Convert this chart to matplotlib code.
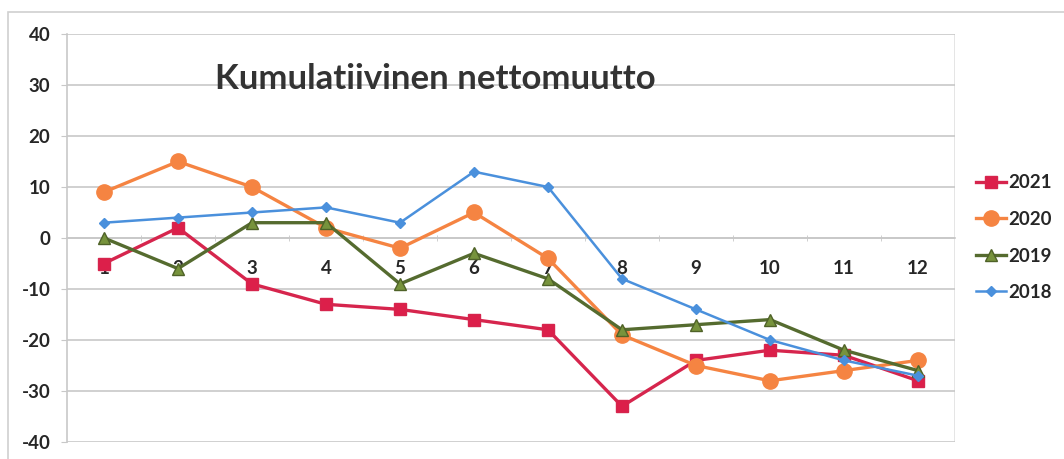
import matplotlib.pyplot as plt
from matplotlib.patches import Rectangle

months = [1, 2, 3, 4, 5, 6, 7, 8, 9, 10, 11, 12]
month_labels = ["1", "2", "3", "4", "5", "6", "7", "8", "9", "10", "11", "12"]
y2021 = [-5, 2, -9, -13, -14, -16, -18, -33, -24, -22, -23, -28]
y2020 = [9, 15, 10, 2, -2, 5, -4, -19, -25, -28, -26, -24]
y2019 = [0, -6, 3, 3, -9, -3, -8, -18, -17, -16, -22, -26]
y2018 = [3, 4, 5, 6, 3, 13, 10, -8, -14, -20, -24, -27]
y_ticks = [-40, -30, -20, -10, 0, 10, 20, 30, 40]
title = "Kumulatiivinen nettomuutto"

plt.rcParams["font.family"] = ["Lato", "DejaVu Sans"]
text_color = "#262626"
grid_color = "#c8c8c8"

fig = plt.figure(figsize=(10.64, 4.59), dpi=100)
ax = fig.add_axes([67 / 1064, 1 - 442 / 459, (955 - 67) / 1064, (442 - 34) / 459])

# outer chart frame
fig.patches.append(Rectangle((8 / 1064, -0.02), 1.0, 1 - 12 / 459 + 0.02,
                             transform=fig.transFigure, fill=False,
                             edgecolor="#d0d0d0", linewidth=1.2))

# spine position first: moving it resets the tick settings
for side in ["top", "right"]:
    ax.spines[side].set_visible(False)
ax.spines["bottom"].set_position(("data", 0))
ax.spines["bottom"].set_color(grid_color)
ax.spines["bottom"].set_linewidth(1.2)
ax.spines["left"].set_color(grid_color)
ax.spines["left"].set_linewidth(1.2)

ax.plot(months, y2021, color="#d6254d", lw=2.4, marker="s", ms=9,
        mfc="#dc1f4a", mec="#d6254d", label="2021", zorder=3)
ax.plot(months, y2020, color="#f58442", lw=2.4, marker="o", ms=11,
        mfc="#f58442", mec="#f58442", label="2020", zorder=4)
ax.plot(months, y2019, color="#556b2f", lw=2.4, marker="^", ms=9,
        mfc="#77933c", mec="#4f6228", label="2019", zorder=5)
ax.plot(months, y2018, color="#4a90dc", lw=1.8, marker="D", ms=5,
        mfc="#4a90dc", mec="#4a90dc", label="2018", zorder=6)

ax.set_xlim(0.5, 12.5)
ax.set_ylim(-40, 40)
ax.set_yticks(y_ticks)
ax.set_yticklabels([str(v) for v in y_ticks], fontsize=13.5, fontweight="bold",
                   color=text_color)
ax.set_xticks(months)
ax.set_xticklabels(month_labels, fontsize=13.5, fontweight="bold", color=text_color)
ax.set_xticks([m + 0.5 for m in months[:-1]], minor=True)

ax.grid(axis="y", color=grid_color, lw=1.2)
ax.set_axisbelow(True)
ax.axvline(12.5, color="#e0e0e0", lw=1.2, zorder=0)

ax.tick_params(axis="y", length=4, color=grid_color, pad=8)
ax.tick_params(axis="x", which="major", length=0, pad=16)
ax.tick_params(axis="x", which="minor", length=5, direction="inout", color=grid_color)

ax.text(0.167, 0.89, title, transform=ax.transAxes, fontsize=25,
        fontweight="bold", color="#333333", va="center", ha="left")

fig.legend(loc="upper left", bbox_to_anchor=(968 / 1064, 1 - 167 / 459),
           frameon=False, handlelength=1.6, handletextpad=0.15,
           labelspacing=1.04, borderaxespad=0, prop={"weight": "bold", "size": 13.5},
           labelcolor=text_color)

fig.savefig("out.png", dpi=100)
